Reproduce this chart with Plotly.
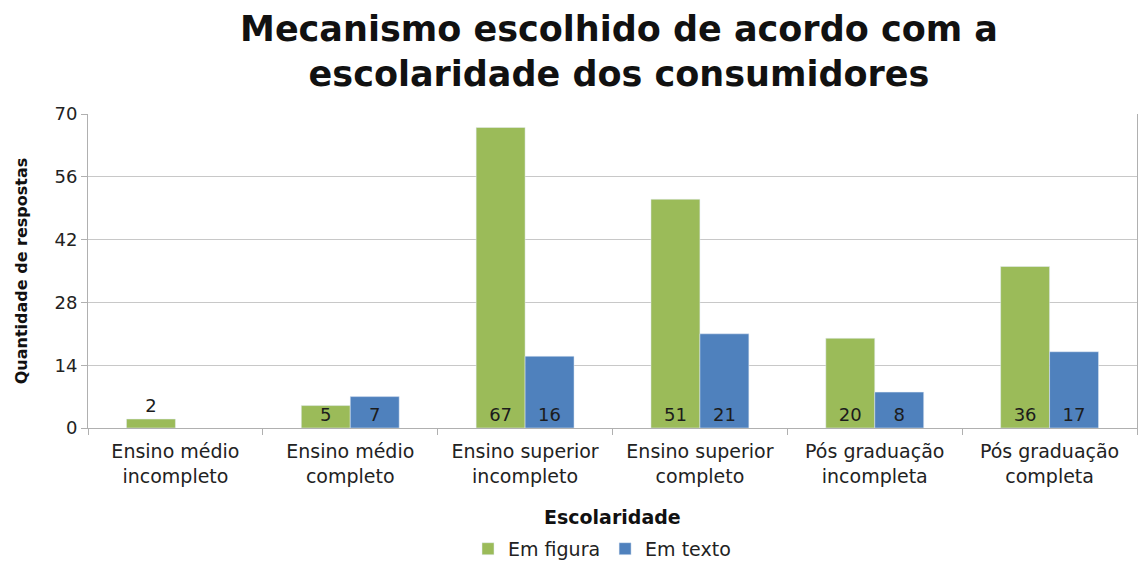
import plotly.graph_objects as go

categories = [
    "Ensino médio<br>incompleto",
    "Ensino médio<br>completo",
    "Ensino superior<br>incompleto",
    "Ensino superior<br>completo",
    "Pós graduação<br>incompleta",
    "Pós graduação<br>completa",
]
em_figura = [2, 5, 67, 51, 20, 36]
em_texto = [None, 7, 16, 21, 8, 17]
y_ticks = [0, 14, 28, 42, 56, 70]

GREEN = "#9BBB59"
BLUE = "#4F81BD"
FONT = "DejaVu Sans, Arial, sans-serif"


def labels(vals):
    return ["" if v is None else str(v) for v in vals]


def positions(vals):
    return ["outside" if (v is not None and v < 4) else "inside" for v in vals]


fig = go.Figure()
for name, vals, color in [("Em figura", em_figura, GREEN), ("Em texto", em_texto, BLUE)]:
    fig.add_trace(go.Bar(
        name=name, x=categories, y=vals, marker_color=color,
        text=labels(vals), textposition=positions(vals),
        insidetextanchor="start", textangle=0, constraintext="none",
        cliponaxis=False,
        textfont=dict(size=18, color="#1c1c1c", family=FONT),
    ))

fig.update_layout(
    width=1140, height=567,
    margin=dict(l=88, r=3, t=114, b=139, autoexpand=False),
    paper_bgcolor="white", plot_bgcolor="white",
    barmode="group", bargap=0.44, bargroupgap=0,
    font=dict(family=FONT, color="#333333"),
    title=dict(
        text="<b>Mecanismo escolhido de acordo com a<br>escolaridade dos consumidores</b>",
        x=0.543, xanchor="center", y=0.928, yanchor="middle",
        font=dict(size=35, color="#111111", family=FONT),
    ),
    showlegend=True,
    legend=dict(
        orientation="h", x=0.49, xanchor="center",
        yref="container", y=0.032, yanchor="middle",
        font=dict(size=19, color="#222222", family=FONT),
        itemwidth=30, traceorder="normal",
    ),
)

fig.update_xaxes(
    type="category", showgrid=False, automargin=False,
    showline=True, linecolor="#b0b0b0", linewidth=1,
    ticks="outside", tickson="boundaries", ticklen=6, tickcolor="#b0b0b0",
    ticklabelstandoff=6,
    tickfont=dict(size=19, color="#222222", family=FONT),
)
fig.update_yaxes(
    range=[0, 70], tickvals=y_ticks, automargin=False,
    showgrid=True, gridcolor="#c8c8c8", gridwidth=1,
    showline=True, linecolor="#b0b0b0", linewidth=1, mirror=True,
    ticks="outside", ticklen=6, tickcolor="#b0b0b0",
    tickfont=dict(size=18, color="#222222", family=FONT),
    zeroline=False,
    title=dict(text="<b>Quantidade de respostas</b>", standoff=22,
               font=dict(size=16, color="#111111", family=FONT)),
)

fig.add_annotation(
    text="<b>Escolaridade</b>", xref="paper", yref="paper",
    x=0.5, y=-0.283, xanchor="center", yanchor="middle", showarrow=False,
    font=dict(size=19, color="#111111", family=FONT),
)

fig.write_html("out.html")
